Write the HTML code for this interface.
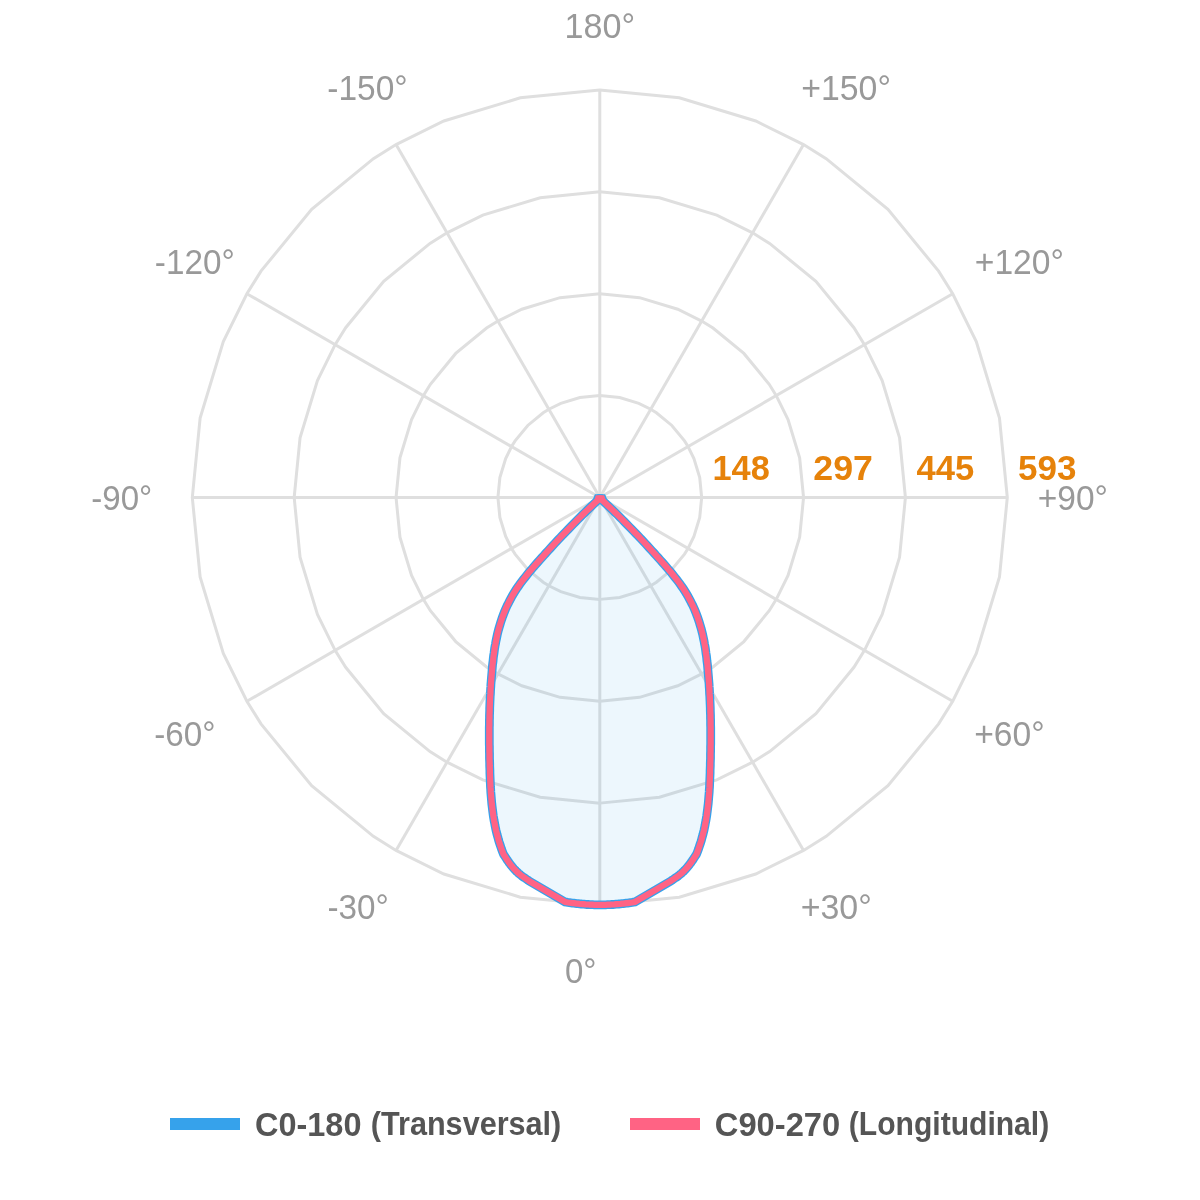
<!DOCTYPE html>
<html><head><meta charset="utf-8"><style>
html,body{margin:0;padding:0;background:#fff;width:1200px;height:1200px;overflow:hidden;font-family:"Liberation Sans",sans-serif;}
svg{display:block} text{will-change:transform}
</style></head><body>
<svg width="1200" height="1200" viewBox="0 0 1200 1200">
<rect width="1200" height="1200" fill="#fff"/>
<defs><clipPath id="cb"><rect x="0" y="494.2" width="1200" height="706"/></clipPath><clipPath id="cp"><rect x="0" y="495.2" width="1200" height="705"/></clipPath></defs>
<polygon points="599.80,599.38 619.67,597.42 638.79,591.62 650.74,585.73 656.40,582.21 671.84,569.54 684.51,554.10 688.03,548.44 693.92,536.49 699.72,517.37 701.67,497.50 699.72,477.63 693.92,458.51 688.03,446.56 684.51,440.90 671.84,425.46 656.40,412.79 650.74,409.27 638.79,403.38 619.67,397.58 599.80,395.62 579.93,397.58 560.81,403.38 548.86,409.27 543.20,412.79 527.76,425.46 515.09,440.90 511.57,446.56 505.68,458.51 499.88,477.63 497.92,497.50 499.88,517.37 505.68,536.49 511.57,548.44 515.09,554.10 527.76,569.54 543.20,582.21 548.86,585.73 560.81,591.62 579.93,597.42" fill="none" stroke="#dfdfdf" stroke-width="3.0" stroke-linejoin="miter"/>
<polygon points="599.80,701.25 639.55,697.34 677.77,685.74 701.67,673.95 713.00,666.91 743.87,641.57 769.21,610.70 776.25,599.38 788.04,575.47 799.64,537.25 803.55,497.50 799.64,457.75 788.04,419.53 776.25,395.63 769.21,384.30 743.87,353.43 713.00,328.09 701.67,321.05 677.77,309.26 639.55,297.66 599.80,293.75 560.05,297.66 521.83,309.26 497.92,321.05 486.60,328.09 455.73,353.43 430.39,384.30 423.35,395.62 411.56,419.53 399.96,457.75 396.05,497.50 399.96,537.25 411.56,575.47 423.35,599.38 430.39,610.70 455.73,641.57 486.60,666.91 497.92,673.95 521.83,685.74 560.05,697.34" fill="none" stroke="#dfdfdf" stroke-width="3.0" stroke-linejoin="miter"/>
<polygon points="599.80,803.12 659.42,797.25 716.76,779.86 752.61,762.18 769.60,751.62 815.91,713.61 853.92,667.30 864.48,650.31 882.16,614.46 899.55,557.12 905.42,497.50 899.55,437.88 882.16,380.54 864.48,344.69 853.92,327.70 815.91,281.39 769.60,243.38 752.61,232.82 716.76,215.14 659.42,197.75 599.80,191.88 540.18,197.75 482.84,215.14 446.99,232.82 430.00,243.38 383.69,281.39 345.68,327.70 335.12,344.69 317.44,380.54 300.05,437.88 294.17,497.50 300.05,557.12 317.44,614.46 335.12,650.31 345.68,667.30 383.69,713.61 430.00,751.62 446.99,762.18 482.84,779.86 540.18,797.25" fill="none" stroke="#dfdfdf" stroke-width="3.0" stroke-linejoin="miter"/>
<polygon points="599.80,905.00 679.30,897.17 755.74,873.98 803.55,850.41 826.19,836.32 887.95,785.65 938.62,723.89 952.71,701.25 976.28,653.44 999.47,577.00 1007.30,497.50 999.47,418.00 976.28,341.56 952.71,293.75 938.62,271.11 887.95,209.35 826.19,158.68 803.55,144.59 755.74,121.02 679.30,97.83 599.80,90.00 520.30,97.83 443.86,121.02 396.05,144.59 373.41,158.68 311.65,209.35 260.98,271.11 246.89,293.75 223.32,341.56 200.13,418.00 192.30,497.50 200.13,577.00 223.32,653.44 246.89,701.25 260.98,723.89 311.65,785.65 373.41,836.32 396.05,850.41 443.86,873.98 520.30,897.17" fill="none" stroke="#dfdfdf" stroke-width="3.0" stroke-linejoin="miter"/>
<line x1="599.8" y1="497.5" x2="599.80" y2="905.00" stroke="#dfdfdf" stroke-width="3.0"/>
<line x1="599.8" y1="497.5" x2="803.55" y2="850.41" stroke="#dfdfdf" stroke-width="3.0"/>
<line x1="599.8" y1="497.5" x2="952.71" y2="701.25" stroke="#dfdfdf" stroke-width="3.0"/>
<line x1="599.8" y1="497.5" x2="1007.30" y2="497.50" stroke="#dfdfdf" stroke-width="3.0"/>
<line x1="599.8" y1="497.5" x2="952.71" y2="293.75" stroke="#dfdfdf" stroke-width="3.0"/>
<line x1="599.8" y1="497.5" x2="803.55" y2="144.59" stroke="#dfdfdf" stroke-width="3.0"/>
<line x1="599.8" y1="497.5" x2="599.80" y2="90.00" stroke="#dfdfdf" stroke-width="3.0"/>
<line x1="599.8" y1="497.5" x2="396.05" y2="144.59" stroke="#dfdfdf" stroke-width="3.0"/>
<line x1="599.8" y1="497.5" x2="246.89" y2="293.75" stroke="#dfdfdf" stroke-width="3.0"/>
<line x1="599.8" y1="497.5" x2="192.30" y2="497.50" stroke="#dfdfdf" stroke-width="3.0"/>
<line x1="599.8" y1="497.5" x2="246.89" y2="701.25" stroke="#dfdfdf" stroke-width="3.0"/>
<line x1="599.8" y1="497.5" x2="396.05" y2="850.41" stroke="#dfdfdf" stroke-width="3.0"/>
<path d="M600.0,498.0 L602.5,500.4 L605.0,502.8 L607.5,505.2 L610.0,507.6 L612.5,509.9 L614.9,512.3 L617.4,514.7 L619.8,517.1 L622.2,519.5 L624.5,521.9 L626.9,524.3 L629.2,526.7 L631.6,529.1 L633.9,531.5 L636.2,533.9 L638.5,536.2 L640.7,538.6 L643.0,541.0 L645.2,543.4 L647.4,545.8 L649.6,548.2 L651.8,550.6 L654.0,553.0 L656.1,555.4 L658.3,557.8 L660.4,560.1 L662.5,562.5 L664.6,564.9 L666.7,567.3 L668.7,569.7 L670.8,572.1 L672.7,574.5 L674.6,576.9 L676.5,579.3 L678.3,581.6 L680.1,584.0 L681.7,586.4 L683.4,588.8 L684.9,591.2 L686.4,593.6 L687.8,596.0 L689.1,598.4 L690.4,600.8 L691.6,603.2 L692.8,605.5 L693.9,607.9 L694.9,610.3 L695.9,612.7 L696.8,615.1 L697.7,617.5 L698.5,619.9 L699.3,622.3 L700.0,624.7 L700.7,627.1 L701.4,629.5 L702.0,631.8 L702.6,634.2 L703.1,636.6 L703.6,639.0 L704.1,641.4 L704.5,643.8 L705.0,646.2 L705.4,648.6 L705.7,651.0 L706.0,653.4 L706.4,655.7 L706.7,658.1 L706.9,660.5 L707.2,662.9 L707.5,665.3 L707.7,667.7 L707.9,670.1 L708.1,672.5 L708.3,674.9 L708.5,677.2 L708.7,679.6 L708.9,682.0 L709.1,684.4 L709.2,686.8 L709.4,689.2 L709.5,691.6 L709.6,694.0 L709.8,696.4 L709.9,698.8 L710.0,701.1 L710.1,703.5 L710.2,705.9 L710.3,708.3 L710.3,710.7 L710.4,713.1 L710.5,715.5 L710.5,717.9 L710.6,720.3 L710.6,722.6 L710.6,725.0 L710.7,727.4 L710.7,729.8 L710.7,732.2 L710.7,734.6 L710.7,737.0 L710.7,739.4 L710.7,741.8 L710.7,744.2 L710.6,746.5 L710.6,748.9 L710.6,751.3 L710.5,753.7 L710.5,756.1 L710.5,758.5 L710.4,760.9 L710.3,763.3 L710.3,765.7 L710.2,768.1 L710.1,770.5 L710.1,772.8 L710.0,775.2 L709.9,777.6 L709.8,780.0 L709.7,782.4 L709.6,784.8 L709.5,787.2 L709.3,789.6 L709.2,792.0 L709.0,794.4 L708.8,796.7 L708.6,799.1 L708.4,801.5 L708.2,803.9 L707.9,806.3 L707.6,808.7 L707.3,811.1 L707.0,813.5 L706.7,815.9 L706.3,818.2 L705.9,820.6 L705.4,823.0 L705.0,825.4 L704.5,827.8 L704.0,830.2 L703.4,832.6 L702.8,835.0 L702.1,837.4 L701.5,839.8 L700.8,842.1 L700.0,844.5 L699.2,846.9 L698.4,849.3 L697.5,851.7 L696.6,854.1 L696.2,854.7 L695.8,855.4 L695.2,856.2 L694.6,857.2 L693.9,858.2 L693.2,859.3 L692.5,860.4 L691.7,861.5 L691.0,862.6 L690.2,863.6 L689.5,864.6 L688.8,865.5 L688.1,866.3 L687.5,867.1 L686.8,867.9 L686.2,868.6 L685.5,869.3 L684.8,870.0 L684.2,870.7 L683.5,871.4 L682.8,872.0 L682.1,872.7 L681.4,873.4 L680.6,874.0 L679.8,874.7 L678.9,875.4 L678.0,876.1 L677.0,876.8 L676.0,877.5 L675.0,878.1 L674.1,878.8 L673.2,879.4 L672.4,879.9 L671.6,880.4 L671.0,880.9 L670.5,881.2 L634.9,902.0 L633.5,902.2 L632.0,902.5 L630.5,902.7 L629.1,902.9 L627.6,903.1 L626.2,903.2 L624.7,903.4 L623.3,903.6 L621.8,903.7 L620.4,903.9 L618.9,904.0 L617.5,904.1 L616.0,904.2 L614.5,904.4 L613.1,904.5 L611.6,904.5 L610.2,904.6 L608.7,904.7 L607.3,904.7 L605.8,904.8 L604.4,904.8 L602.9,904.8 L601.5,904.8 L600.0,904.8 L598.5,904.8 L597.1,904.8 L595.6,904.8 L594.2,904.8 L592.7,904.7 L591.3,904.7 L589.8,904.6 L588.4,904.5 L586.9,904.5 L585.5,904.4 L584.0,904.2 L582.5,904.1 L581.1,904.0 L579.6,903.9 L578.2,903.7 L576.7,903.6 L575.3,903.4 L573.8,903.2 L572.4,903.1 L570.9,902.9 L569.5,902.7 L568.0,902.5 L566.5,902.2 L565.1,902.0 L529.5,881.2 L529.0,880.9 L528.4,880.4 L527.6,879.9 L526.8,879.4 L525.9,878.8 L525.0,878.1 L524.0,877.5 L523.0,876.8 L522.0,876.1 L521.1,875.4 L520.2,874.7 L519.4,874.0 L518.6,873.4 L517.9,872.7 L517.2,872.0 L516.5,871.4 L515.8,870.7 L515.2,870.0 L514.5,869.3 L513.8,868.6 L513.2,867.9 L512.5,867.1 L511.9,866.3 L511.2,865.5 L510.5,864.6 L509.8,863.6 L509.0,862.6 L508.3,861.5 L507.5,860.4 L506.8,859.3 L506.1,858.2 L505.4,857.2 L504.8,856.2 L504.2,855.4 L503.8,854.7 L503.4,854.1 L502.5,851.7 L501.6,849.3 L500.8,846.9 L500.0,844.5 L499.2,842.1 L498.5,839.8 L497.9,837.4 L497.2,835.0 L496.6,832.6 L496.0,830.2 L495.5,827.8 L495.0,825.4 L494.6,823.0 L494.1,820.6 L493.7,818.2 L493.3,815.9 L493.0,813.5 L492.7,811.1 L492.4,808.7 L492.1,806.3 L491.8,803.9 L491.6,801.5 L491.4,799.1 L491.2,796.7 L491.0,794.4 L490.8,792.0 L490.7,789.6 L490.5,787.2 L490.4,784.8 L490.3,782.4 L490.2,780.0 L490.1,777.6 L490.0,775.2 L489.9,772.8 L489.9,770.5 L489.8,768.1 L489.7,765.7 L489.7,763.3 L489.6,760.9 L489.5,758.5 L489.5,756.1 L489.5,753.7 L489.4,751.3 L489.4,748.9 L489.4,746.5 L489.3,744.2 L489.3,741.8 L489.3,739.4 L489.3,737.0 L489.3,734.6 L489.3,732.2 L489.3,729.8 L489.3,727.4 L489.4,725.0 L489.4,722.6 L489.4,720.3 L489.5,717.9 L489.5,715.5 L489.6,713.1 L489.7,710.7 L489.7,708.3 L489.8,705.9 L489.9,703.5 L490.0,701.1 L490.1,698.8 L490.2,696.4 L490.4,694.0 L490.5,691.6 L490.6,689.2 L490.8,686.8 L490.9,684.4 L491.1,682.0 L491.3,679.6 L491.5,677.2 L491.7,674.9 L491.9,672.5 L492.1,670.1 L492.3,667.7 L492.5,665.3 L492.8,662.9 L493.1,660.5 L493.3,658.1 L493.6,655.7 L494.0,653.4 L494.3,651.0 L494.6,648.6 L495.0,646.2 L495.5,643.8 L495.9,641.4 L496.4,639.0 L496.9,636.6 L497.4,634.2 L498.0,631.8 L498.6,629.5 L499.3,627.1 L500.0,624.7 L500.7,622.3 L501.5,619.9 L502.3,617.5 L503.2,615.1 L504.1,612.7 L505.1,610.3 L506.1,607.9 L507.2,605.5 L508.4,603.2 L509.6,600.8 L510.9,598.4 L512.2,596.0 L513.6,593.6 L515.1,591.2 L516.6,588.8 L518.3,586.4 L519.9,584.0 L521.7,581.6 L523.5,579.3 L525.4,576.9 L527.3,574.5 L529.2,572.1 L531.3,569.7 L533.3,567.3 L535.4,564.9 L537.5,562.5 L539.6,560.1 L541.7,557.8 L543.9,555.4 L546.0,553.0 L548.2,550.6 L550.4,548.2 L552.6,545.8 L554.8,543.4 L557.0,541.0 L559.3,538.6 L561.5,536.2 L563.8,533.9 L566.1,531.5 L568.4,529.1 L570.8,526.7 L573.1,524.3 L575.5,521.9 L577.8,519.5 L580.2,517.1 L582.6,514.7 L585.1,512.3 L587.5,509.9 L590.0,507.6 L592.5,505.2 L595.0,502.8 L597.5,500.4 Z" fill="rgba(54,162,235,0.09)" stroke="none"/>
<path d="M600.0,498.0 L602.5,500.4 L605.0,502.8 L607.5,505.2 L610.0,507.6 L612.5,509.9 L614.9,512.3 L617.4,514.7 L619.8,517.1 L622.2,519.5 L624.5,521.9 L626.9,524.3 L629.2,526.7 L631.6,529.1 L633.9,531.5 L636.2,533.9 L638.5,536.2 L640.7,538.6 L643.0,541.0 L645.2,543.4 L647.4,545.8 L649.6,548.2 L651.8,550.6 L654.0,553.0 L656.1,555.4 L658.3,557.8 L660.4,560.1 L662.5,562.5 L664.6,564.9 L666.7,567.3 L668.7,569.7 L670.8,572.1 L672.7,574.5 L674.6,576.9 L676.5,579.3 L678.3,581.6 L680.1,584.0 L681.7,586.4 L683.4,588.8 L684.9,591.2 L686.4,593.6 L687.8,596.0 L689.1,598.4 L690.4,600.8 L691.6,603.2 L692.8,605.5 L693.9,607.9 L694.9,610.3 L695.9,612.7 L696.8,615.1 L697.7,617.5 L698.5,619.9 L699.3,622.3 L700.0,624.7 L700.7,627.1 L701.4,629.5 L702.0,631.8 L702.6,634.2 L703.1,636.6 L703.6,639.0 L704.1,641.4 L704.5,643.8 L705.0,646.2 L705.4,648.6 L705.7,651.0 L706.0,653.4 L706.4,655.7 L706.7,658.1 L706.9,660.5 L707.2,662.9 L707.5,665.3 L707.7,667.7 L707.9,670.1 L708.1,672.5 L708.3,674.9 L708.5,677.2 L708.7,679.6 L708.9,682.0 L709.1,684.4 L709.2,686.8 L709.4,689.2 L709.5,691.6 L709.6,694.0 L709.8,696.4 L709.9,698.8 L710.0,701.1 L710.1,703.5 L710.2,705.9 L710.3,708.3 L710.3,710.7 L710.4,713.1 L710.5,715.5 L710.5,717.9 L710.6,720.3 L710.6,722.6 L710.6,725.0 L710.7,727.4 L710.7,729.8 L710.7,732.2 L710.7,734.6 L710.7,737.0 L710.7,739.4 L710.7,741.8 L710.7,744.2 L710.6,746.5 L710.6,748.9 L710.6,751.3 L710.5,753.7 L710.5,756.1 L710.5,758.5 L710.4,760.9 L710.3,763.3 L710.3,765.7 L710.2,768.1 L710.1,770.5 L710.1,772.8 L710.0,775.2 L709.9,777.6 L709.8,780.0 L709.7,782.4 L709.6,784.8 L709.5,787.2 L709.3,789.6 L709.2,792.0 L709.0,794.4 L708.8,796.7 L708.6,799.1 L708.4,801.5 L708.2,803.9 L707.9,806.3 L707.6,808.7 L707.3,811.1 L707.0,813.5 L706.7,815.9 L706.3,818.2 L705.9,820.6 L705.4,823.0 L705.0,825.4 L704.5,827.8 L704.0,830.2 L703.4,832.6 L702.8,835.0 L702.1,837.4 L701.5,839.8 L700.8,842.1 L700.0,844.5 L699.2,846.9 L698.4,849.3 L697.5,851.7 L696.6,854.1 L696.2,854.7 L695.8,855.4 L695.2,856.2 L694.6,857.2 L693.9,858.2 L693.2,859.3 L692.5,860.4 L691.7,861.5 L691.0,862.6 L690.2,863.6 L689.5,864.6 L688.8,865.5 L688.1,866.3 L687.5,867.1 L686.8,867.9 L686.2,868.6 L685.5,869.3 L684.8,870.0 L684.2,870.7 L683.5,871.4 L682.8,872.0 L682.1,872.7 L681.4,873.4 L680.6,874.0 L679.8,874.7 L678.9,875.4 L678.0,876.1 L677.0,876.8 L676.0,877.5 L675.0,878.1 L674.1,878.8 L673.2,879.4 L672.4,879.9 L671.6,880.4 L671.0,880.9 L670.5,881.2 L634.9,902.0 L633.5,902.2 L632.0,902.5 L630.5,902.7 L629.1,902.9 L627.6,903.1 L626.2,903.2 L624.7,903.4 L623.3,903.6 L621.8,903.7 L620.4,903.9 L618.9,904.0 L617.5,904.1 L616.0,904.2 L614.5,904.4 L613.1,904.5 L611.6,904.5 L610.2,904.6 L608.7,904.7 L607.3,904.7 L605.8,904.8 L604.4,904.8 L602.9,904.8 L601.5,904.8 L600.0,904.8 L598.5,904.8 L597.1,904.8 L595.6,904.8 L594.2,904.8 L592.7,904.7 L591.3,904.7 L589.8,904.6 L588.4,904.5 L586.9,904.5 L585.5,904.4 L584.0,904.2 L582.5,904.1 L581.1,904.0 L579.6,903.9 L578.2,903.7 L576.7,903.6 L575.3,903.4 L573.8,903.2 L572.4,903.1 L570.9,902.9 L569.5,902.7 L568.0,902.5 L566.5,902.2 L565.1,902.0 L529.5,881.2 L529.0,880.9 L528.4,880.4 L527.6,879.9 L526.8,879.4 L525.9,878.8 L525.0,878.1 L524.0,877.5 L523.0,876.8 L522.0,876.1 L521.1,875.4 L520.2,874.7 L519.4,874.0 L518.6,873.4 L517.9,872.7 L517.2,872.0 L516.5,871.4 L515.8,870.7 L515.2,870.0 L514.5,869.3 L513.8,868.6 L513.2,867.9 L512.5,867.1 L511.9,866.3 L511.2,865.5 L510.5,864.6 L509.8,863.6 L509.0,862.6 L508.3,861.5 L507.5,860.4 L506.8,859.3 L506.1,858.2 L505.4,857.2 L504.8,856.2 L504.2,855.4 L503.8,854.7 L503.4,854.1 L502.5,851.7 L501.6,849.3 L500.8,846.9 L500.0,844.5 L499.2,842.1 L498.5,839.8 L497.9,837.4 L497.2,835.0 L496.6,832.6 L496.0,830.2 L495.5,827.8 L495.0,825.4 L494.6,823.0 L494.1,820.6 L493.7,818.2 L493.3,815.9 L493.0,813.5 L492.7,811.1 L492.4,808.7 L492.1,806.3 L491.8,803.9 L491.6,801.5 L491.4,799.1 L491.2,796.7 L491.0,794.4 L490.8,792.0 L490.7,789.6 L490.5,787.2 L490.4,784.8 L490.3,782.4 L490.2,780.0 L490.1,777.6 L490.0,775.2 L489.9,772.8 L489.9,770.5 L489.8,768.1 L489.7,765.7 L489.7,763.3 L489.6,760.9 L489.5,758.5 L489.5,756.1 L489.5,753.7 L489.4,751.3 L489.4,748.9 L489.4,746.5 L489.3,744.2 L489.3,741.8 L489.3,739.4 L489.3,737.0 L489.3,734.6 L489.3,732.2 L489.3,729.8 L489.3,727.4 L489.4,725.0 L489.4,722.6 L489.4,720.3 L489.5,717.9 L489.5,715.5 L489.6,713.1 L489.7,710.7 L489.7,708.3 L489.8,705.9 L489.9,703.5 L490.0,701.1 L490.1,698.8 L490.2,696.4 L490.4,694.0 L490.5,691.6 L490.6,689.2 L490.8,686.8 L490.9,684.4 L491.1,682.0 L491.3,679.6 L491.5,677.2 L491.7,674.9 L491.9,672.5 L492.1,670.1 L492.3,667.7 L492.5,665.3 L492.8,662.9 L493.1,660.5 L493.3,658.1 L493.6,655.7 L494.0,653.4 L494.3,651.0 L494.6,648.6 L495.0,646.2 L495.5,643.8 L495.9,641.4 L496.4,639.0 L496.9,636.6 L497.4,634.2 L498.0,631.8 L498.6,629.5 L499.3,627.1 L500.0,624.7 L500.7,622.3 L501.5,619.9 L502.3,617.5 L503.2,615.1 L504.1,612.7 L505.1,610.3 L506.1,607.9 L507.2,605.5 L508.4,603.2 L509.6,600.8 L510.9,598.4 L512.2,596.0 L513.6,593.6 L515.1,591.2 L516.6,588.8 L518.3,586.4 L519.9,584.0 L521.7,581.6 L523.5,579.3 L525.4,576.9 L527.3,574.5 L529.2,572.1 L531.3,569.7 L533.3,567.3 L535.4,564.9 L537.5,562.5 L539.6,560.1 L541.7,557.8 L543.9,555.4 L546.0,553.0 L548.2,550.6 L550.4,548.2 L552.6,545.8 L554.8,543.4 L557.0,541.0 L559.3,538.6 L561.5,536.2 L563.8,533.9 L566.1,531.5 L568.4,529.1 L570.8,526.7 L573.1,524.3 L575.5,521.9 L577.8,519.5 L580.2,517.1 L582.6,514.7 L585.1,512.3 L587.5,509.9 L590.0,507.6 L592.5,505.2 L595.0,502.8 L597.5,500.4 Z" fill="none" stroke="#36a2eb" stroke-width="8.8" stroke-linejoin="miter" stroke-miterlimit="1.4" clip-path="url(#cb)"/>
<path d="M594.85,494.2 L605.15,494.2 L606.8,498.5 L593.2,498.5 Z" fill="#36a2eb"/>
<path d="M600.0,498.0 L602.5,500.4 L605.0,502.8 L607.5,505.2 L610.0,507.6 L612.5,509.9 L614.9,512.3 L617.4,514.7 L619.8,517.1 L622.2,519.5 L624.5,521.9 L626.9,524.3 L629.2,526.7 L631.6,529.1 L633.9,531.5 L636.2,533.9 L638.5,536.2 L640.7,538.6 L643.0,541.0 L645.2,543.4 L647.4,545.8 L649.6,548.2 L651.8,550.6 L654.0,553.0 L656.1,555.4 L658.3,557.8 L660.4,560.1 L662.5,562.5 L664.6,564.9 L666.7,567.3 L668.7,569.7 L670.8,572.1 L672.7,574.5 L674.6,576.9 L676.5,579.3 L678.3,581.6 L680.1,584.0 L681.7,586.4 L683.4,588.8 L684.9,591.2 L686.4,593.6 L687.8,596.0 L689.1,598.4 L690.4,600.8 L691.6,603.2 L692.8,605.5 L693.9,607.9 L694.9,610.3 L695.9,612.7 L696.8,615.1 L697.7,617.5 L698.5,619.9 L699.3,622.3 L700.0,624.7 L700.7,627.1 L701.4,629.5 L702.0,631.8 L702.6,634.2 L703.1,636.6 L703.6,639.0 L704.1,641.4 L704.5,643.8 L705.0,646.2 L705.4,648.6 L705.7,651.0 L706.0,653.4 L706.4,655.7 L706.7,658.1 L706.9,660.5 L707.2,662.9 L707.5,665.3 L707.7,667.7 L707.9,670.1 L708.1,672.5 L708.3,674.9 L708.5,677.2 L708.7,679.6 L708.9,682.0 L709.1,684.4 L709.2,686.8 L709.4,689.2 L709.5,691.6 L709.6,694.0 L709.8,696.4 L709.9,698.8 L710.0,701.1 L710.1,703.5 L710.2,705.9 L710.3,708.3 L710.3,710.7 L710.4,713.1 L710.5,715.5 L710.5,717.9 L710.6,720.3 L710.6,722.6 L710.6,725.0 L710.7,727.4 L710.7,729.8 L710.7,732.2 L710.7,734.6 L710.7,737.0 L710.7,739.4 L710.7,741.8 L710.7,744.2 L710.6,746.5 L710.6,748.9 L710.6,751.3 L710.5,753.7 L710.5,756.1 L710.5,758.5 L710.4,760.9 L710.3,763.3 L710.3,765.7 L710.2,768.1 L710.1,770.5 L710.1,772.8 L710.0,775.2 L709.9,777.6 L709.8,780.0 L709.7,782.4 L709.6,784.8 L709.5,787.2 L709.3,789.6 L709.2,792.0 L709.0,794.4 L708.8,796.7 L708.6,799.1 L708.4,801.5 L708.2,803.9 L707.9,806.3 L707.6,808.7 L707.3,811.1 L707.0,813.5 L706.7,815.9 L706.3,818.2 L705.9,820.6 L705.4,823.0 L705.0,825.4 L704.5,827.8 L704.0,830.2 L703.4,832.6 L702.8,835.0 L702.1,837.4 L701.5,839.8 L700.8,842.1 L700.0,844.5 L699.2,846.9 L698.4,849.3 L697.5,851.7 L696.6,854.1 L696.2,854.7 L695.8,855.4 L695.2,856.2 L694.6,857.2 L693.9,858.2 L693.2,859.3 L692.5,860.4 L691.7,861.5 L691.0,862.6 L690.2,863.6 L689.5,864.6 L688.8,865.5 L688.1,866.3 L687.5,867.1 L686.8,867.9 L686.2,868.6 L685.5,869.3 L684.8,870.0 L684.2,870.7 L683.5,871.4 L682.8,872.0 L682.1,872.7 L681.4,873.4 L680.6,874.0 L679.8,874.7 L678.9,875.4 L678.0,876.1 L677.0,876.8 L676.0,877.5 L675.0,878.1 L674.1,878.8 L673.2,879.4 L672.4,879.9 L671.6,880.4 L671.0,880.9 L670.5,881.2 L634.9,902.0 L633.5,902.2 L632.0,902.5 L630.5,902.7 L629.1,902.9 L627.6,903.1 L626.2,903.2 L624.7,903.4 L623.3,903.6 L621.8,903.7 L620.4,903.9 L618.9,904.0 L617.5,904.1 L616.0,904.2 L614.5,904.4 L613.1,904.5 L611.6,904.5 L610.2,904.6 L608.7,904.7 L607.3,904.7 L605.8,904.8 L604.4,904.8 L602.9,904.8 L601.5,904.8 L600.0,904.8 L598.5,904.8 L597.1,904.8 L595.6,904.8 L594.2,904.8 L592.7,904.7 L591.3,904.7 L589.8,904.6 L588.4,904.5 L586.9,904.5 L585.5,904.4 L584.0,904.2 L582.5,904.1 L581.1,904.0 L579.6,903.9 L578.2,903.7 L576.7,903.6 L575.3,903.4 L573.8,903.2 L572.4,903.1 L570.9,902.9 L569.5,902.7 L568.0,902.5 L566.5,902.2 L565.1,902.0 L529.5,881.2 L529.0,880.9 L528.4,880.4 L527.6,879.9 L526.8,879.4 L525.9,878.8 L525.0,878.1 L524.0,877.5 L523.0,876.8 L522.0,876.1 L521.1,875.4 L520.2,874.7 L519.4,874.0 L518.6,873.4 L517.9,872.7 L517.2,872.0 L516.5,871.4 L515.8,870.7 L515.2,870.0 L514.5,869.3 L513.8,868.6 L513.2,867.9 L512.5,867.1 L511.9,866.3 L511.2,865.5 L510.5,864.6 L509.8,863.6 L509.0,862.6 L508.3,861.5 L507.5,860.4 L506.8,859.3 L506.1,858.2 L505.4,857.2 L504.8,856.2 L504.2,855.4 L503.8,854.7 L503.4,854.1 L502.5,851.7 L501.6,849.3 L500.8,846.9 L500.0,844.5 L499.2,842.1 L498.5,839.8 L497.9,837.4 L497.2,835.0 L496.6,832.6 L496.0,830.2 L495.5,827.8 L495.0,825.4 L494.6,823.0 L494.1,820.6 L493.7,818.2 L493.3,815.9 L493.0,813.5 L492.7,811.1 L492.4,808.7 L492.1,806.3 L491.8,803.9 L491.6,801.5 L491.4,799.1 L491.2,796.7 L491.0,794.4 L490.8,792.0 L490.7,789.6 L490.5,787.2 L490.4,784.8 L490.3,782.4 L490.2,780.0 L490.1,777.6 L490.0,775.2 L489.9,772.8 L489.9,770.5 L489.8,768.1 L489.7,765.7 L489.7,763.3 L489.6,760.9 L489.5,758.5 L489.5,756.1 L489.5,753.7 L489.4,751.3 L489.4,748.9 L489.4,746.5 L489.3,744.2 L489.3,741.8 L489.3,739.4 L489.3,737.0 L489.3,734.6 L489.3,732.2 L489.3,729.8 L489.3,727.4 L489.4,725.0 L489.4,722.6 L489.4,720.3 L489.5,717.9 L489.5,715.5 L489.6,713.1 L489.7,710.7 L489.7,708.3 L489.8,705.9 L489.9,703.5 L490.0,701.1 L490.1,698.8 L490.2,696.4 L490.4,694.0 L490.5,691.6 L490.6,689.2 L490.8,686.8 L490.9,684.4 L491.1,682.0 L491.3,679.6 L491.5,677.2 L491.7,674.9 L491.9,672.5 L492.1,670.1 L492.3,667.7 L492.5,665.3 L492.8,662.9 L493.1,660.5 L493.3,658.1 L493.6,655.7 L494.0,653.4 L494.3,651.0 L494.6,648.6 L495.0,646.2 L495.5,643.8 L495.9,641.4 L496.4,639.0 L496.9,636.6 L497.4,634.2 L498.0,631.8 L498.6,629.5 L499.3,627.1 L500.0,624.7 L500.7,622.3 L501.5,619.9 L502.3,617.5 L503.2,615.1 L504.1,612.7 L505.1,610.3 L506.1,607.9 L507.2,605.5 L508.4,603.2 L509.6,600.8 L510.9,598.4 L512.2,596.0 L513.6,593.6 L515.1,591.2 L516.6,588.8 L518.3,586.4 L519.9,584.0 L521.7,581.6 L523.5,579.3 L525.4,576.9 L527.3,574.5 L529.2,572.1 L531.3,569.7 L533.3,567.3 L535.4,564.9 L537.5,562.5 L539.6,560.1 L541.7,557.8 L543.9,555.4 L546.0,553.0 L548.2,550.6 L550.4,548.2 L552.6,545.8 L554.8,543.4 L557.0,541.0 L559.3,538.6 L561.5,536.2 L563.8,533.9 L566.1,531.5 L568.4,529.1 L570.8,526.7 L573.1,524.3 L575.5,521.9 L577.8,519.5 L580.2,517.1 L582.6,514.7 L585.1,512.3 L587.5,509.9 L590.0,507.6 L592.5,505.2 L595.0,502.8 L597.5,500.4 Z" fill="none" stroke="#ff6384" stroke-width="6.2" stroke-linejoin="miter" stroke-miterlimit="1.4" clip-path="url(#cp)"/>
<path d="M595.9,495.2 L604.1,495.2 L605.3,498.5 L594.7,498.5 Z" fill="#ff6384"/>
<text x="564.52" y="38.00" font-family="Liberation Sans, sans-serif" font-size="34.70" font-weight="400" fill="#999999" textLength="70.64" lengthAdjust="spacingAndGlyphs">180°</text>
<text x="801.24" y="100.44" font-family="Liberation Sans, sans-serif" font-size="34.70" font-weight="400" fill="#999999" textLength="89.69" lengthAdjust="spacingAndGlyphs">+150°</text>
<text x="974.80" y="274.00" font-family="Liberation Sans, sans-serif" font-size="34.70" font-weight="400" fill="#999999" textLength="89.12" lengthAdjust="spacingAndGlyphs">+120°</text>
<text x="1037.80" y="510.20" font-family="Liberation Sans, sans-serif" font-size="34.70" font-weight="400" fill="#999999" textLength="70.14" lengthAdjust="spacingAndGlyphs">+90°</text>
<text x="974.24" y="746.40" font-family="Liberation Sans, sans-serif" font-size="34.70" font-weight="400" fill="#999999" textLength="70.44" lengthAdjust="spacingAndGlyphs">+60°</text>
<text x="800.68" y="919.20" font-family="Liberation Sans, sans-serif" font-size="34.70" font-weight="400" fill="#999999" textLength="71.11" lengthAdjust="spacingAndGlyphs">+30°</text>
<text x="565.00" y="983.00" font-family="Liberation Sans, sans-serif" font-size="34.70" font-weight="400" fill="#999999" textLength="31.58" lengthAdjust="spacingAndGlyphs">0°</text>
<text x="327.40" y="919.20" font-family="Liberation Sans, sans-serif" font-size="34.70" font-weight="400" fill="#999999" textLength="61.34" lengthAdjust="spacingAndGlyphs">-30°</text>
<text x="154.24" y="746.40" font-family="Liberation Sans, sans-serif" font-size="34.70" font-weight="400" fill="#999999" textLength="61.34" lengthAdjust="spacingAndGlyphs">-60°</text>
<text x="91.32" y="510.20" font-family="Liberation Sans, sans-serif" font-size="34.70" font-weight="400" fill="#999999" textLength="60.98" lengthAdjust="spacingAndGlyphs">-90°</text>
<text x="154.80" y="274.00" font-family="Liberation Sans, sans-serif" font-size="34.70" font-weight="400" fill="#999999" textLength="79.90" lengthAdjust="spacingAndGlyphs">-120°</text>
<text x="327.24" y="100.44" font-family="Liberation Sans, sans-serif" font-size="34.70" font-weight="400" fill="#999999" textLength="80.42" lengthAdjust="spacingAndGlyphs">-150°</text>
<text x="712.44" y="479.80" font-family="Liberation Sans, sans-serif" font-size="35.40" font-weight="700" fill="#e6820a" textLength="57.30" lengthAdjust="spacingAndGlyphs">148</text>
<text x="813.28" y="479.80" font-family="Liberation Sans, sans-serif" font-size="35.40" font-weight="700" fill="#e6820a" textLength="59.60" lengthAdjust="spacingAndGlyphs">297</text>
<text x="916.44" y="479.80" font-family="Liberation Sans, sans-serif" font-size="35.40" font-weight="700" fill="#e6820a" textLength="57.73" lengthAdjust="spacingAndGlyphs">445</text>
<text x="1018.00" y="479.80" font-family="Liberation Sans, sans-serif" font-size="35.40" font-weight="700" fill="#e6820a" textLength="58.36" lengthAdjust="spacingAndGlyphs">593</text>
<text x="255.04" y="1135.60" font-family="Liberation Sans, sans-serif" font-size="32.50" font-weight="700" fill="#555555" textLength="106.44" lengthAdjust="spacingAndGlyphs">C0-180</text>
<text x="370.80" y="1134.70" font-family="Liberation Sans, sans-serif" font-size="32.50" font-weight="700" fill="#555555" textLength="190.53" lengthAdjust="spacingAndGlyphs">(Transversal)</text>
<text x="714.80" y="1135.60" font-family="Liberation Sans, sans-serif" font-size="32.50" font-weight="700" fill="#555555" textLength="125.45" lengthAdjust="spacingAndGlyphs">C90-270</text>
<text x="848.80" y="1134.70" font-family="Liberation Sans, sans-serif" font-size="32.50" font-weight="700" fill="#555555" textLength="200.43" lengthAdjust="spacingAndGlyphs">(Longitudinal)</text>
<rect x="170" y="1118" width="70" height="12" fill="#36a2eb"/>
<rect x="630" y="1118" width="70" height="12" fill="#ff6384"/>
</svg>
</body></html>
